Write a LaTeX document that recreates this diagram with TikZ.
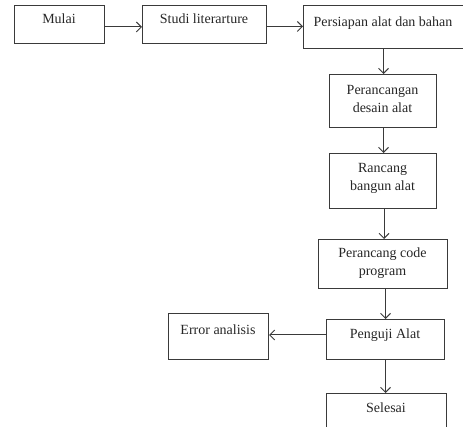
\documentclass[tikz,border=0pt]{standalone}
\usepackage{fontspec}
\setmainfont{Liberation Serif}
\usetikzlibrary{arrows.meta}
\definecolor{linegray}{HTML}{3A3A3A}
\begin{document}
\begin{tikzpicture}[x=1pt,y=-1pt,
  box/.style={draw=linegray,line width=1pt,rectangle,inner sep=0pt,anchor=north west},
  txt/.style={font=\fontsize{14}{18}\selectfont,align=center,anchor=base,inner sep=0pt,text=black!85},
  conn/.style={draw=linegray,line width=1pt,-{Straight Barb[length=5pt,width=10pt,line width=1pt]}}]
\useasboundingbox (0,0) rectangle (463,427);
% boxes
\node[box,minimum width=90pt,minimum height=38pt] (mulai) at (14,5) {};
\node[box,minimum width=124pt,minimum height=38pt] (studi) at (142,5) {};
\node[box,minimum width=162pt,minimum height=43pt] (persiapan) at (303,5) {};
\node[box,minimum width=107pt,minimum height=53pt] (desain) at (329,74) {};
\node[box,minimum width=107pt,minimum height=55pt] (bangun) at (329,153) {};
\node[box,minimum width=129pt,minimum height=49pt] (code) at (318,239) {};
\node[box,minimum width=118pt,minimum height=40pt] (uji) at (326,319) {};
\node[box,minimum width=100pt,minimum height=46pt] (error) at (168,313) {};
\node[box,minimum width=120pt,minimum height=50pt] (selesai) at (326,393) {};
% texts (anchor base = baseline of the last line)
\node[txt] (tmulai) at (59,23.5) {Mulai};
\node[txt] (tstudi) at (204,23.5) {Studi literarture};
\node[txt] (tpersiapan) at (383,26.5) {Persiapan alat dan bahan};
\node[txt] (tdesain) at (382.5,112.5) {Perancangan\\desain alat};
\node[txt] (tbangun) at (382.5,190.5) {Rancang\\bangun alat};
\node[txt] (tcode) at (382.5,275.5) {Perancang code\\program};
\node[txt] (tuji) at (385,338.5) {Penguji Alat};
\node[txt] (terror) at (218,334.5) {Error analisis};
\node[txt] (tselesai) at (386,412) {Selesai};
% connectors
\draw[conn] (mulai.east |- 0,27) -- (studi.west |- 0,27);
\draw[conn] (studi.east |- 0,26.5) -- (persiapan.west |- 0,26.5);
\draw[conn] (persiapan.south -| 383.5,0) -- (desain.north -| 383.5,0);
\draw[conn] (desain.south -| 383.5,0) -- (bangun.north -| 383.5,0);
\draw[conn] (bangun.south -| 384,0) -- (code.north -| 384,0);
\draw[conn] (code.south -| 385.5,0) -- (uji.north -| 385.5,0);
\draw[conn] (uji.west |- 0,335) -- (error.east |- 0,335);
\draw[conn] (uji.south -| 385.5,0) -- (selesai.north -| 385.5,0);
\end{tikzpicture}
\end{document}
